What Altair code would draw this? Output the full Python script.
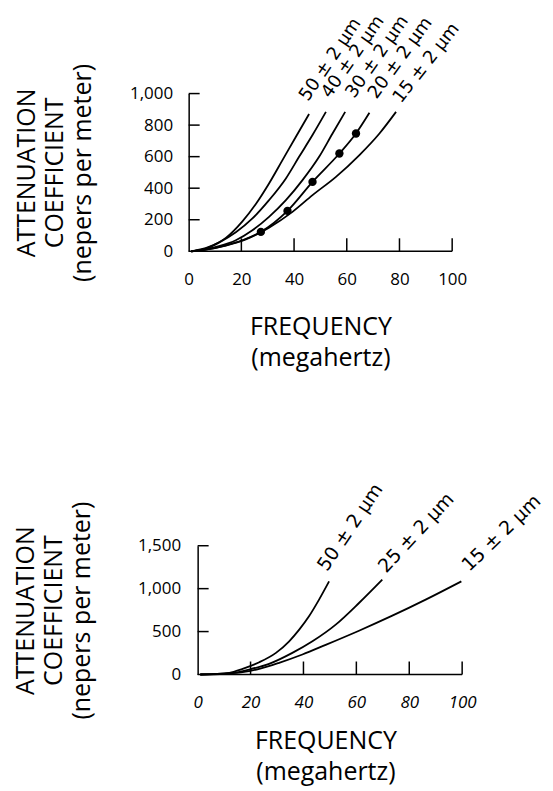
import altair as alt
import pandas as pd

# ---------------- data: top panel (attenuation vs frequency, 5 particle sizes)
TOP_50_FREQ = [1, 7.7, 14.1, 20.4, 25.5, 30.5, 35.6, 40.7, 45.7]
TOP_50_ATTEN = [0, 28, 85, 190, 300, 430, 578, 726, 870]
TOP_40_FREQ = [1, 7, 11.5, 17.9, 24.2, 30.5, 36.9, 41.9, 47, 52.1]
TOP_40_ATTEN = [0, 20, 55, 120, 208, 324, 462, 599, 737, 884]
TOP_30_FREQ = [1, 6, 11.5, 17.9, 24.2, 30.5, 36.9, 43.2, 49.5, 54.6, 59.4]
TOP_30_ATTEN = [0, 10, 32, 70, 133, 218, 324, 451, 599, 747, 884]
TOP_20_FREQ = [1, 7, 14.1, 20.4, 27.4, 37.5, 47, 57.2, 63.5, 68.6]
TOP_20_ATTEN = [0, 12, 38, 70, 123, 256, 440, 620, 747, 878]
TOP_15_FREQ = [1, 7, 14.1, 21.7, 30.5, 39.4, 47, 55.9, 64.8, 72.4, 78.7]
TOP_15_ATTEN = [0, 12, 36, 75, 150, 250, 356, 472, 610, 747, 884]
TOP_DOT_FREQ = [27.4, 37.5, 47, 57.2, 63.5]
TOP_DOT_ATTEN = [123, 256, 440, 620, 747]
TOP_LABELS = ["50 ± 2 µm", "40 ± 2 µm", "30 ± 2 µm", "20 ± 2 µm", "15 ± 2 µm"]
TOP_Y_TICKS = [0, 200, 400, 600, 800, 1000]

# ---------------- data: bottom panel (3 particle sizes)
BOT_50_FREQ = [1, 12, 17, 23.3, 29.6, 34.6, 38.4, 42.1, 45.9, 49.7]
BOT_50_ATTEN = [0, 20, 66, 143, 252, 387, 523, 678, 872, 1085]
BOT_25_FREQ = [1, 12, 19.5, 27, 35.8, 43.4, 52.2, 61, 69.8]
BOT_25_ATTEN = [0, 12, 58, 124, 252, 387, 581, 833, 1105]
BOT_15_FREQ = [1, 10, 17, 23.3, 30.8, 39.6, 48.4, 61, 73.6, 86.2, 99.7]
BOT_15_ATTEN = [0, 8, 27, 66, 136, 233, 345, 510, 685, 872, 1085]
BOT_LABELS = ["50 ± 2 µm", "25 ± 2 µm", "15 ± 2 µm"]
BOT_Y_TICKS = [0, 500, 1000, 1500]

X_TICKS = [0, 20, 40, 60, 80, 100]

# ---------------- styles (angles and pixel nudges of the curve labels)
TOP_LABEL_ANGLES = [304, 305, 305, 306, 308]
TOP_LABEL_NUDGE = [(-1, -12), (4, -13), (9, -13), (7, -13), (5, -8)]
BOT_LABEL_ANGLES = [304, 313, 316]
BOT_LABEL_NUDGE = [(-2, -9), (4, -6), (8, -9)]
FONT = "Open Sans"
LABEL_FONT = "DejaVu Sans"


def curves_frame(freqs, attens, names):
    rows = []
    for f_list, a_list, name in zip(freqs, attens, names):
        for i, (f, a) in enumerate(zip(f_list, a_list)):
            rows.append({"freq": f, "atten": a, "series": name, "order": i})
    return pd.DataFrame(rows)


def panel(freqs, attens, labels, angles, nudges, yticks, ymax, w, h, xmin=0.0,
          axis_shift=0, dots=None, ylab_pad=16, ytitle_pad=36, xlab_italic=False,
          xlab_pad=23, xtitle_pad=24, xtitle_lh=31, label_size=18):
    xs = alt.Scale(domain=[xmin, 100], nice=False, zero=False)
    ys = alt.Scale(domain=[0, ymax], nice=False)
    x_axis = alt.Axis(values=X_TICKS, ticks=False, grid=False, domain=False,
                      labelPadding=xlab_pad, titlePadding=xtitle_pad, labelOverlap=False,
                      labelFontStyle="italic" if xlab_italic else "normal",
                      title=["FREQUENCY", "(megahertz)"], labelFlush=False,
                      titleLineHeight=xtitle_lh)
    y_axis = alt.Axis(values=yticks, ticks=False, grid=False, format=",d",
                      labelPadding=ylab_pad, titlePadding=ytitle_pad, labelOverlap=False,
                      offset=-axis_shift, titleLineHeight=28,
                      title=["ATTENUATION", "COEFFICIENT", "(nepers per meter)"])

    def X(field):
        return alt.X(field, scale=xs, axis=x_axis)

    def Y(field):
        return alt.Y(field, scale=ys, axis=y_axis)

    names = [lab.split(" ")[0] for lab in labels]
    df = curves_frame(freqs, attens, names)
    lines = alt.Chart(df).mark_line(color="black", strokeWidth=1.8, interpolate="monotone").encode(
        x=X("freq:Q"), y=Y("atten:Q"), detail="series:N", order="order:Q",
    )
    layers = [lines]
    base = alt.Chart(pd.DataFrame({"freq": [0], "b": [100]})).mark_rule(
        color="black", strokeWidth=1.5).encode(x=X("freq:Q"), x2="b:Q", y=alt.value(h))
    xt = alt.Chart(pd.DataFrame({"freq": X_TICKS[1:]})).mark_rule(
        color="black", strokeWidth=1.5).encode(x=X("freq:Q"), y=alt.value(h), y2=alt.value(h - 13))
    yt = alt.Chart(pd.DataFrame({"atten": yticks[1:]})).mark_rule(
        color="black", strokeWidth=1.5).encode(
        y=Y("atten:Q"), x=alt.value(axis_shift), x2=alt.value(axis_shift + 11))
    layers += [base, xt, yt]
    if dots is not None:
        dd = pd.DataFrame({"freq": dots[0], "atten": dots[1]})
        layers.append(alt.Chart(dd).mark_circle(color="black", size=70, opacity=1).encode(
            x=X("freq:Q"), y=Y("atten:Q")))
    for f_list, a_list, lab, ang, (nx, ny) in zip(freqs, attens, labels, angles, nudges):
        ld = pd.DataFrame({"freq": [f_list[-1]], "atten": [a_list[-1]], "label": [lab]})
        layers.append(alt.Chart(ld).mark_text(
            angle=ang, align="left", baseline="alphabetic", xOffset=nx, yOffset=ny,
            font=LABEL_FONT, fontSize=label_size, color="black").encode(
            x=X("freq:Q"), y=Y("atten:Q"), text="label:N"))
    return alt.layer(*layers).properties(width=w, height=h)


top = panel([TOP_50_FREQ, TOP_40_FREQ, TOP_30_FREQ, TOP_20_FREQ, TOP_15_FREQ],
            [TOP_50_ATTEN, TOP_40_ATTEN, TOP_30_ATTEN, TOP_20_ATTEN, TOP_15_ATTEN],
            TOP_LABELS, TOP_LABEL_ANGLES, TOP_LABEL_NUDGE, TOP_Y_TICKS, 1000, 264, 158,
            dots=(TOP_DOT_FREQ, TOP_DOT_ATTEN), ylab_pad=16, ytitle_pad=34,
            xlab_pad=20, xtitle_pad=27, xtitle_lh=31, label_size=18)

bottom = panel([BOT_50_FREQ, BOT_25_FREQ, BOT_15_FREQ],
               [BOT_50_ATTEN, BOT_25_ATTEN, BOT_15_ATTEN],
               BOT_LABELS, BOT_LABEL_ANGLES, BOT_LABEL_NUDGE, BOT_Y_TICKS, 1500, 274, 129,
               xmin=-3.4, axis_shift=9, ylab_pad=17, ytitle_pad=43, xlab_italic=True,
               xlab_pad=20, xtitle_pad=18, xtitle_lh=31, label_size=19)

chart = alt.concat(top, bottom, columns=1, spacing=110).configure_view(
    stroke=None
).configure_axis(
    domainColor="black", domainWidth=1.5, labelOverlap=False,
    labelFont=FONT, labelFontSize=17, labelColor="black",
    titleFont=FONT, titleFontSize=25, titleFontWeight="normal", titleColor="black",
).properties(padding={"left": 5, "top": 3, "right": 0, "bottom": 3})

chart.save("out.html", embed_options={"renderer": "svg", "actions": False})
